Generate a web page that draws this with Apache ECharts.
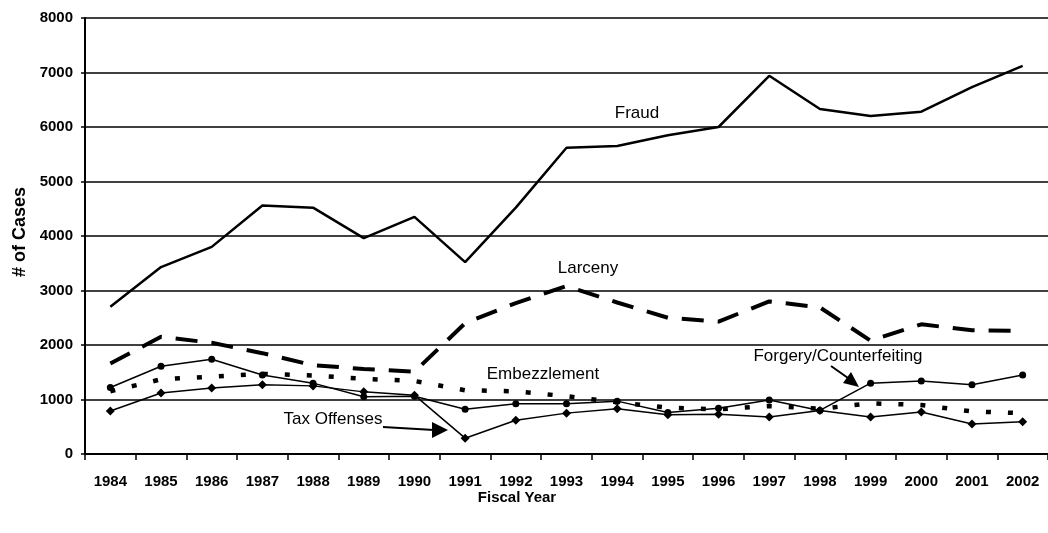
<!DOCTYPE html>
<html>
<head>
<meta charset="utf-8">
<script src="https://cdn.jsdelivr.net/npm/echarts@6/dist/echarts.min.js"></script>
<style>
  html, body { margin: 0; padding: 0; background: #fff; }
  #chart { width: 1048px; height: 533px; }
</style>
</head>
<body>
<div id="chart"></div>
<script>
// fiscal years
var years = ['1984', '1985', '1986', '1987', '1988', '1989', '1990', '1991', '1992', '1993',
  '1994', '1995', '1996', '1997', '1998', '1999', '2000', '2001', '2002']

// number of cases per offense
var fraud = [2700, 3430, 3800, 4560, 4520, 3960, 4350, 3520, 4520, 5620,
  5650, 5850, 6000, 6940, 6330, 6200, 6280, 6730, 7120]
var larceny = [1660, 2150, 2040, 1850, 1630, 1560, 1510, 2400, 2770, 3080,
  2780, 2500, 2430, 2800, 2690, 2080, 2380, 2270, 2260]
var embezzlement = [1150, 1370, 1420, 1470, 1440, 1380, 1340, 1170, 1150, 1060,
  950, 850, 820, 880, 830, 930, 900, 780, 750]
var forgery = [1220, 1610, 1740, 1450, 1300, 1050, 1060, 820, 920, 920,
  970, 760, 840, 990, 800, 1300, 1340, 1270, 1450]
var taxOffenses = [790, 1120, 1210, 1270, 1250, 1140, 1080, 290, 620, 750,
  830, 720, 730, 680, 800, 680, 770, 550, 590]

var font = 'Liberation Sans, Arial, sans-serif'

var chart = echarts.init(document.getElementById('chart'))

// labels drawn on top of the plot
function label(text, x, y) {
  return {
    type: 'text',
    x: x,
    y: y,
    style: {
      text: text,
      fill: '#000',
      font: '17px ' + font,
      textAlign: 'center',
      textVerticalAlign: 'middle'
    },
    z: 100
  }
}

var option = {
  animation: false,
  backgroundColor: '#fff',
  grid: {
    left: 85,
    right: 0,
    top: 18,
    bottom: 79
  },
  xAxis: {
    type: 'category',
    data: years,
    boundaryGap: true,
    axisLine: {
      lineStyle: { color: '#000', width: 2 }
    },
    axisTick: {
      show: true,
      alignWithLabel: false,
      length: 6,
      lineStyle: { color: '#000', width: 1.5 }
    },
    axisLabel: {
      interval: 0,
      margin: 20,
      color: '#000',
      fontFamily: font,
      fontSize: 15,
      fontWeight: 'bold'
    },
    splitLine: { show: false }
  },
  yAxis: {
    type: 'value',
    min: 0,
    max: 8000,
    interval: 1000,
    axisLine: {
      show: true,
      lineStyle: { color: '#000', width: 2 }
    },
    axisTick: {
      show: true,
      length: 4,
      lineStyle: { color: '#000', width: 1.5 }
    },
    axisLabel: {
      margin: 12,
      color: '#000',
      fontFamily: font,
      fontSize: 15,
      fontWeight: 'bold',
      formatter: function(v) {
        return String(v)
      }
    },
    splitLine: {
      lineStyle: { color: '#000', width: 1.5 }
    }
  },
  series: [
    {
      name: 'Fraud',
      type: 'line',
      data: fraud,
      symbol: 'none',
      lineStyle: { color: '#000', width: 2.5 }
    },
    {
      name: 'Larceny',
      type: 'line',
      data: larceny,
      symbol: 'none',
      lineStyle: { color: '#000', width: 4, type: [22, 14] }
    },
    {
      name: 'Embezzlement',
      type: 'line',
      data: embezzlement,
      symbol: 'none',
      lineStyle: { color: '#000', width: 4.5, type: [5, 17] }
    },
    {
      name: 'Forgery/Counterfeiting',
      type: 'line',
      data: forgery,
      symbol: 'circle',
      symbolSize: 7,
      itemStyle: { color: '#000' },
      lineStyle: { color: '#000', width: 1.5 }
    },
    {
      name: 'Tax Offenses',
      type: 'line',
      data: taxOffenses,
      symbol: 'diamond',
      symbolSize: 9,
      itemStyle: { color: '#000' },
      lineStyle: { color: '#000', width: 1.5 }
    }
  ],
  graphic: [
    label('Fraud', 637, 113),
    label('Larceny', 588, 268),
    label('Embezzlement', 543, 374),
    label('Tax Offenses', 333, 419),
    label('Forgery/Counterfeiting', 838, 356),
    // Tax Offenses arrow
    {
      type: 'polyline',
      shape: { points: [[383, 427], [434, 430]] },
      style: { stroke: '#000', lineWidth: 2, fill: null },
      z: 100
    },
    {
      type: 'polygon',
      shape: { points: [[432, 422], [448, 430], [432, 438]] },
      style: { fill: '#000' },
      z: 100
    },
    // Forgery/Counterfeiting arrow
    {
      type: 'polyline',
      shape: { points: [[831, 366], [848, 378]] },
      style: { stroke: '#000', lineWidth: 2, fill: null },
      z: 100
    },
    {
      type: 'polygon',
      shape: { points: [[843, 383], [851, 372], [859, 387]] },
      style: { fill: '#000' },
      z: 100
    },
    // axis titles
    {
      type: 'text',
      x: 517,
      y: 498,
      style: {
        text: 'Fiscal Year',
        fill: '#000',
        font: 'bold 15px ' + font,
        textAlign: 'center',
        textVerticalAlign: 'middle'
      }
    },
    {
      type: 'text',
      x: 20,
      y: 232,
      rotation: Math.PI / 2,
      style: {
        text: '# of Cases',
        fill: '#000',
        font: 'bold 18px ' + font,
        textAlign: 'center',
        textVerticalAlign: 'middle'
      }
    }
  ]
}

chart.setOption(option)
window.addEventListener('resize', function() {
  chart.resize()
})
</script>
</body>
</html>
